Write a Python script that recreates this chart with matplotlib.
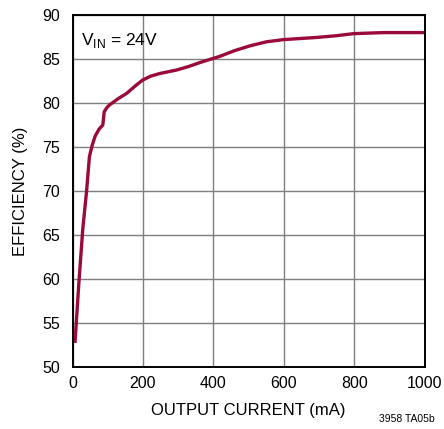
import matplotlib
matplotlib.use("Agg")
from matplotlib import pyplot as plt

# efficiency curve (VIN = 24V)
current_ma = [7, 18, 29, 40, 48, 56, 64, 75, 86, 90, 98, 106, 130, 154, 180, 199,
              222, 248, 296, 330, 362, 418, 460, 504, 550, 598, 693, 750, 797,
              882, 1000]
efficiency = [52.7, 59.5, 65.6, 70.0, 73.9, 75.2, 76.2, 77.0, 77.5, 79.0, 79.5, 79.8,
              80.5, 81.1, 82.0, 82.6, 83.05, 83.35, 83.75, 84.15, 84.6, 85.3,
              85.95, 86.5, 86.95, 87.2, 87.45, 87.65, 87.88, 88.0, 88.0]

x_ticks = [0, 200, 400, 600, 800, 1000]
y_ticks = [50, 55, 60, 65, 70, 75, 80, 85, 90]

plt.rcParams['font.family'] = ['Liberation Sans Narrow', 'Liberation Sans', 'DejaVu Sans']

fig = plt.figure(figsize=(4.44, 4.29), dpi=100)
ax = fig.add_axes([0.1633, 0.1452, 0.7937, 0.8198])

ax.plot(current_ma, efficiency, color='#9b0a3c', linewidth=2.4,
        solid_capstyle='butt', solid_joinstyle='round')

ax.set_xlim(0, 1000)
ax.set_ylim(50, 90)
ax.set_xticks(x_ticks)
ax.set_yticks(y_ticks)
ax.tick_params(length=0, labelsize=11.5)
ax.tick_params(axis='y', pad=9)
ax.tick_params(axis='x', pad=7)
ax.grid(True, color='#7f7f7f', linewidth=1.0)
ax.set_axisbelow(True)
for s in ax.spines.values():
    s.set_linewidth(1.4)
    s.set_color('black')

ax.set_xlabel('OUTPUT CURRENT (mA)', fontsize=12, labelpad=8)
ax.set_ylabel('EFFICIENCY (%)', fontsize=12, labelpad=10)

ax.text(0.025, 0.955, r'V$_{\mathregular{IN}}$ = 24V', transform=ax.transAxes,
        fontsize=12.5, va='top', ha='left')
fig.text(0.98, 0.012, '3958 TA05b', fontsize=7.5, ha='right', va='bottom')

fig.savefig('out.png', dpi=100)
